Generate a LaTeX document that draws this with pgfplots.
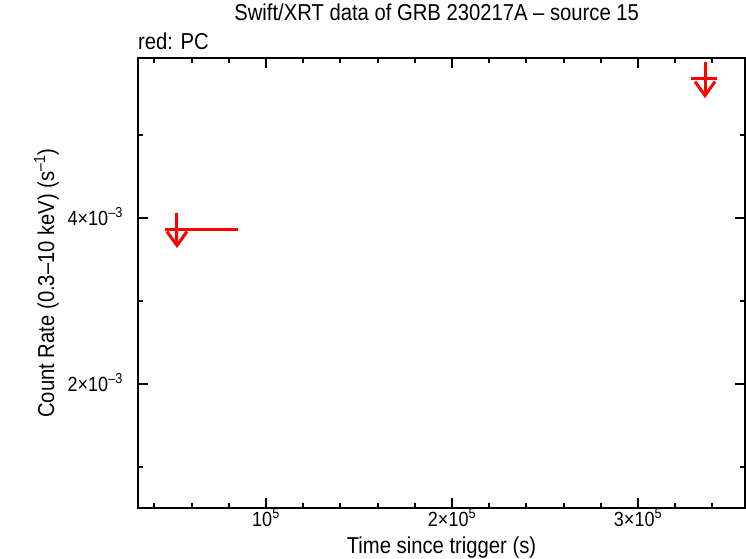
\documentclass[border=0pt]{standalone}
\usepackage{fontspec}
\setmainfont{Liberation Sans}[FakeStretch=0.88]
\usepackage{pgfplots}
\pgfplotsset{compat=1.18}
\usetikzlibrary{arrows.meta}
\begin{document}
\begin{tikzpicture}[x=1pt,y=1pt]
\useasboundingbox (-138pt,-50pt) rectangle (608pt,508pt);
\begin{axis}[
  at={(0pt,0pt)}, anchor=south west,
  scale only axis, width=607pt, height=450pt,
  xmin=31200, xmax=357500, ymin=0.506e-3, ymax=5.93e-3,
  axis line style={line width=2pt},
  tick style={line width=2pt, black},
  major tick length=10pt, minor tick length=5pt,
  tick align=inside,
  xtick={1e5,2e5,3e5},
  xticklabels={},
  minor xtick={40000,60000,80000,120000,140000,160000,180000,220000,240000,260000,280000,320000,340000},
  ytick={2e-3,4e-3},
  yticklabels={},
  minor ytick={1e-3,3e-3,5e-3},
  scaled x ticks=false, scaled y ticks=false,
  xlabel={Time since trigger (s)},
  ylabel={Count Rate (0.3–10 keV) (s\textsuperscript{–1})},
  label style={font=\fontsize{23pt}{26pt}\selectfont},
  xlabel style={at={(axis description cs:0.5,-0.1)}, anchor=base},
  ylabel style={at={(axis description cs:-0.138,0.5)}, anchor=base},
  title={Swift/XRT data of GRB 230217A – source 15},
  title style={font=\fontsize{23pt}{26pt}\selectfont, at={(axis description cs:0.492,1.071)}, anchor=base},
  clip=false,
]
% horizontal extents (time bins)
\addplot[red, line width=3pt, no markers, draw=none,
  error bars/.cd, x dir=both, x explicit,
  error bar style={red, line width=3pt}, error mark=none]
  coordinates {
    (52150,3.867e-3) += (32750,0) -= (6450,0)
    (336000,5.687e-3) += (6500,0) -= (7500,0)
  };
% upper-limit arrows
\addplot[red, line width=3pt, -{Straight Barb[length=14pt,width=20pt,line width=3pt]},
  quiver={u=0, v=\thisrow{v}}]
  table {
    x      y        v
    52150  4.060e-3 -0.421e-3
    336000 5.880e-3 -0.434e-3
  };
% tick labels
\node[anchor=base, inner sep=0pt, font=\fontsize{20.5pt}{23pt}\selectfont] at (axis cs:1e5,0.506e-3) [yshift=-18pt] {10\textsuperscript{5}};
\node[anchor=base, inner sep=0pt, font=\fontsize{20.5pt}{23pt}\selectfont] at (axis cs:2e5,0.506e-3) [yshift=-18pt] {2×10\textsuperscript{5}};
\node[anchor=base, inner sep=0pt, font=\fontsize{20.5pt}{23pt}\selectfont] at (axis cs:3e5,0.506e-3) [yshift=-18pt] {3×10\textsuperscript{5}};
\node[anchor=base east, inner sep=0pt, font=\fontsize{20.5pt}{23pt}\selectfont] at (axis cs:31200,2e-3) [xshift=-15pt, yshift=-7pt] {2×10\textsuperscript{–3}};
\node[anchor=base east, inner sep=0pt, font=\fontsize{20.5pt}{23pt}\selectfont] at (axis cs:31200,4e-3) [xshift=-15pt, yshift=-7pt] {4×10\textsuperscript{–3}};
\node[anchor=base west, font=\fontsize{23pt}{26pt}\selectfont, inner sep=0pt]
  at (rel axis cs:0,1) [yshift=8pt] {red: PC};
\end{axis}
\end{tikzpicture}
\end{document}
